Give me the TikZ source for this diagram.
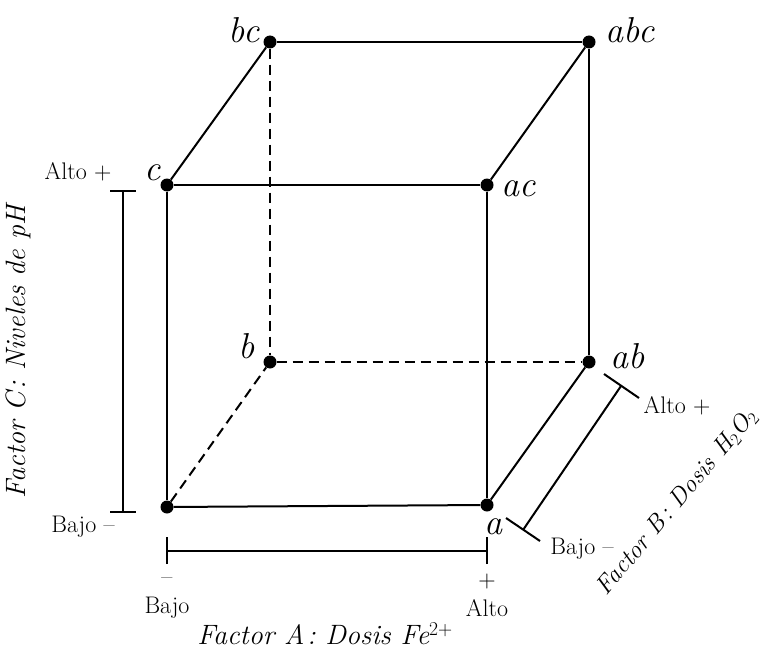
\documentclass[tikz,border=0pt]{standalone}
\usepackage{fontspec}
\begin{document}
\begin{tikzpicture}[x=1pt,y=-1pt,
  edge/.style={line width=2pt},
  dashedge/.style={line width=2pt,dash pattern=on 10pt off 6pt},
  dot/.style={circle,fill=black,inner sep=0pt,minimum size=13pt},
  vlab/.style={inner sep=0pt,font=\itshape\fontsize{36}{40}\selectfont},
  lvl/.style={inner sep=0pt,font=\fontsize{24}{27}\selectfont},
  axl/.style={inner sep=0pt,font=\itshape\fontsize{28}{32}\selectfont},
  brk/.style={line width=2pt}]
\useasboundingbox (0,0) rectangle (763,650);
% vertices
\node[dot] (one) at (167,507) {};
\node[dot] (a) at (487,505) {};
\node[dot] (c) at (167,185) {};
\node[dot] (ac) at (487,185) {};
\node[dot] (b) at (270,362) {};
\node[dot] (ab) at (589,362) {};
\node[dot] (bc) at (270,42) {};
\node[dot] (abc) at (589,42) {};
% edges
\draw[edge] (c) -- (ac);
\draw[edge] (c) -- (bc);
\draw[edge] (bc) -- (abc);
\draw[edge] (abc) -- (ac);
\draw[edge] (abc) -- (ab);
\draw[edge] (ac) -- (a);
\draw[edge] (a) -- (ab);
\draw[edge] (c) -- (one);
\draw[edge] (one) -- (a);
\draw[dashedge] (bc) -- (b);
\draw[dashedge] (b) -- (ab);
\draw[dashedge] (one) -- (b);
% vertex labels
\node[vlab] (lbc) at (244,30) {bc};
\node[vlab] (labc) at (630,30) {abc};
\node[vlab] (lc) at (153,173) {c};
\node[vlab] (lac) at (519,189) {ac};
\node[vlab] (lb) at (247,346) {b};
\node[vlab] (lab) at (628,356) {ab};
\node[vlab] (la) at (493,527) {a};
% factor C bracket
\coordinate (cT) at (123,191);
\coordinate (cB) at (123,512);
\draw[brk] (cT) -- (cB);
\draw[brk] ([xshift=-13pt]cT) -- ([xshift=13pt]cT);
\draw[brk] ([xshift=-13pt]cB) -- ([xshift=13pt]cB);
\node[lvl] (cAlto) at (78,172) {Alto +};
\node[lvl] (cBajo) at (83,527) {Bajo \textendash};
\node[axl,rotate=90] (facC) at (18,352) {Factor C\hspace{0.1em}: Niveles de pH};
% factor A bracket
\coordinate (aL) at (167,551);
\coordinate (aR) at (487,551);
\draw[brk] (aL) -- (aR);
\draw[brk] ([yshift=-13pt]aL) -- ([yshift=14pt]aL);
\draw[brk] ([yshift=-13pt]aR) -- ([yshift=14pt]aR);
\node[lvl] (aminus) at (167,581) {\textendash};
\node[lvl] (aBajo) at (167,608) {Bajo};
\node[lvl] (aplus) at (487,582) {+};
\node[lvl] (aAlto) at (487,608) {Alto};
\node[axl] (facA) at (325,634) {Factor A\hspace{0.1em}: Dosis Fe\textsuperscript{\upshape 2+}};
% factor B bracket
\coordinate (bB) at (523,530);
\coordinate (bT) at (621,386);
\draw[brk] (bB) -- (bT);
\draw[brk] (506,518) -- (540,541);
\draw[brk] (604,374) -- (639,398);
\node[lvl] (bAlto) at (677,406) {Alto +};
\node[lvl] (bBajo) at (582,549) {Bajo \textendash};
\node[axl,rotate=50,font=\itshape\fontsize{25}{28}\selectfont] (facB) at (677,502) {Factor B\hspace{0.1em}: Dosis H\textsubscript{\upshape 2}O\textsubscript{\upshape 2}};
\end{tikzpicture}
\end{document}
